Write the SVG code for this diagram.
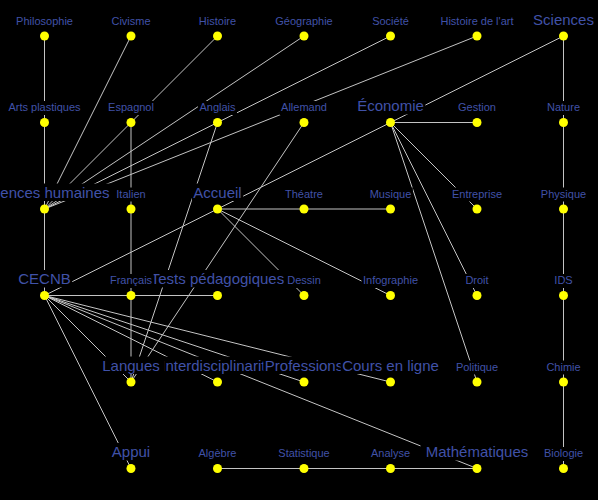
<svg xmlns="http://www.w3.org/2000/svg" width="598" height="500" viewBox="0 0 598 500">
<style>
.e line{stroke:#c4c4c4;stroke-width:1;fill:none}
.bg{fill:#000}
text{font-family:"Liberation Sans",Arial,sans-serif;fill:#4052a8;text-anchor:middle}
.s{font-size:11px}
.b{font-size:15px}
.d{fill:#ffff00}
</style>
<rect x="0" y="0" width="598" height="500" fill="#000"/>
<g id="connectors" class="e">
<line x1="44.5" y1="36" x2="44.5" y2="295.5"/>
<line x1="131" y1="36" x2="44.5" y2="209"/>
<line x1="217.5" y1="36" x2="44.5" y2="209"/>
<line x1="304" y1="36" x2="44.5" y2="209"/>
<line x1="390.5" y1="36" x2="44.5" y2="209"/>
<line x1="477" y1="36" x2="44.5" y2="209"/>
<line x1="563.5" y1="36" x2="44.5" y2="295.5"/>
<line x1="563.5" y1="36" x2="563.5" y2="468.5"/>
<line x1="131" y1="122.5" x2="131" y2="382"/>
<line x1="217.5" y1="122.5" x2="131" y2="382"/>
<line x1="304" y1="122.5" x2="131" y2="382"/>
<line x1="390.5" y1="122.5" x2="477" y2="122.5"/>
<line x1="390.5" y1="122.5" x2="477" y2="209"/>
<line x1="390.5" y1="122.5" x2="477" y2="295.5"/>
<line x1="390.5" y1="122.5" x2="477" y2="382"/>
<line x1="217.5" y1="209" x2="390.5" y2="209"/>
<line x1="217.5" y1="209" x2="304" y2="295.5"/>
<line x1="217.5" y1="209" x2="390.5" y2="295.5"/>
<line x1="44.5" y1="295.5" x2="217.5" y2="295.5"/>
<line x1="44.5" y1="295.5" x2="131" y2="382"/>
<line x1="44.5" y1="295.5" x2="217.5" y2="382"/>
<line x1="44.5" y1="295.5" x2="304" y2="382"/>
<line x1="44.5" y1="295.5" x2="390.5" y2="382"/>
<line x1="44.5" y1="295.5" x2="477" y2="468.5"/>
<line x1="44.5" y1="295.5" x2="131" y2="468.5"/>
<line x1="217.5" y1="468.5" x2="477" y2="468.5"/>
</g>
<g id="philosophie"><rect class="bg" x="14.85" y="14.5" width="59.3" height="14"/><text class="s" x="44.5" y="24.5">Philosophie</text><circle class="d" cx="44.5" cy="36" r="4.5"/></g>
<g id="civisme"><rect class="bg" x="109.95" y="14.5" width="42.1" height="14"/><text class="s" x="131" y="24.5">Civisme</text><circle class="d" cx="131" cy="36" r="4.5"/></g>
<g id="histoire"><rect class="bg" x="197.35" y="14.5" width="40.3" height="14"/><text class="s" x="217.5" y="24.5">Histoire</text><circle class="d" cx="217.5" cy="36" r="4.5"/></g>
<g id="geographie"><rect class="bg" x="273.75" y="14.5" width="60.5" height="14"/><text class="s" x="304" y="24.5">Géographie</text><circle class="d" cx="304" cy="36" r="4.5"/></g>
<g id="societe"><rect class="bg" x="370.65" y="14.5" width="39.7" height="14"/><text class="s" x="390.5" y="24.5">Société</text><circle class="d" cx="390.5" cy="36" r="4.5"/></g>
<g id="histoire-art"><rect class="bg" x="439" y="14.5" width="76" height="14"/><text class="s" x="477" y="24.5">Histoire de l'art</text><circle class="d" cx="477" cy="36" r="4.5"/></g>
<g id="sciences"><rect class="bg" x="531.55" y="10.5" width="63.9" height="17.5"/><text class="b" x="563.5" y="24.5">Sciences</text><circle class="d" cx="563.5" cy="36" r="4.5"/></g>
<g id="arts-plastiques"><rect class="bg" x="6.95" y="101" width="75.1" height="14"/><text class="s" x="44.5" y="111">Arts plastiques</text><circle class="d" cx="44.5" cy="122.5" r="4.5"/></g>
<g id="espagnol"><rect class="bg" x="106.55" y="101" width="48.9" height="14"/><text class="s" x="131" y="111">Espagnol</text><circle class="d" cx="131" cy="122.5" r="4.5"/></g>
<g id="anglais"><rect class="bg" x="197.95" y="101" width="39.1" height="14"/><text class="s" x="217.5" y="111">Anglais</text><circle class="d" cx="217.5" cy="122.5" r="4.5"/></g>
<g id="allemand"><rect class="bg" x="279.6" y="101" width="48.8" height="14"/><text class="s" x="304" y="111">Allemand</text><circle class="d" cx="304" cy="122.5" r="4.5"/></g>
<g id="economie"><rect class="bg" x="355.65" y="97" width="69.7" height="17.5"/><text class="b" x="390.5" y="111">Économie</text><circle class="d" cx="390.5" cy="122.5" r="4.5"/></g>
<g id="gestion"><rect class="bg" x="456.55" y="101" width="40.9" height="14"/><text class="s" x="477" y="111">Gestion</text><circle class="d" cx="477" cy="122.5" r="4.5"/></g>
<g id="nature"><rect class="bg" x="545.5" y="101" width="36" height="14"/><text class="s" x="563.5" y="111">Nature</text><circle class="d" cx="563.5" cy="122.5" r="4.5"/></g>
<g id="sciences-humaines"><rect class="bg" x="-22.05" y="183.5" width="133.1" height="17.5"/><text class="b" x="44.5" y="197.5">Sciences humaines</text><circle class="d" cx="44.5" cy="209" r="4.5"/></g>
<g id="italien"><rect class="bg" x="114.85" y="187.5" width="32.3" height="14"/><text class="s" x="131" y="197.5">Italien</text><circle class="d" cx="131" cy="209" r="4.5"/></g>
<g id="accueil"><rect class="bg" x="191.85" y="183.5" width="51.3" height="17.5"/><text class="b" x="217.5" y="197.5">Accueil</text><circle class="d" cx="217.5" cy="209" r="4.5"/></g>
<g id="theatre"><rect class="bg" x="283.55" y="187.5" width="40.9" height="14"/><text class="s" x="304" y="197.5">Théatre</text><circle class="d" cx="304" cy="209" r="4.5"/></g>
<g id="musique"><rect class="bg" x="368.2" y="187.5" width="44.6" height="14"/><text class="s" x="390.5" y="197.5">Musique</text><circle class="d" cx="390.5" cy="209" r="4.5"/></g>
<g id="entreprise"><rect class="bg" x="450.45" y="187.5" width="53.1" height="14"/><text class="s" x="477" y="197.5">Entreprise</text><circle class="d" cx="477" cy="209" r="4.5"/></g>
<g id="physique"><rect class="bg" x="539.4" y="187.5" width="48.2" height="14"/><text class="s" x="563.5" y="197.5">Physique</text><circle class="d" cx="563.5" cy="209" r="4.5"/></g>
<g id="cecnb"><rect class="bg" x="16.75" y="270" width="55.5" height="17.5"/><text class="b" x="44.5" y="284">CECNB</text><circle class="d" cx="44.5" cy="295.5" r="4.5"/></g>
<g id="tests-pedagogiques"><rect class="bg" x="148.45" y="270" width="138.1" height="17.5"/><text class="b" x="217.5" y="284">Tests pédagogiques</text><circle class="d" cx="217.5" cy="295.5" r="4.5"/></g>
<g id="francais"><rect class="bg" x="108.4" y="274" width="45.2" height="14"/><text class="s" x="131" y="284">Français</text><circle class="d" cx="131" cy="295.5" r="4.5"/></g>
<g id="dessin"><rect class="bg" x="285.7" y="274" width="36.6" height="14"/><text class="s" x="304" y="284">Dessin</text><circle class="d" cx="304" cy="295.5" r="4.5"/></g>
<g id="infographie"><rect class="bg" x="361.5" y="274" width="58" height="14"/><text class="s" x="390.5" y="284">Infographie</text><circle class="d" cx="390.5" cy="295.5" r="4.5"/></g>
<g id="droit"><rect class="bg" x="463.9" y="274" width="26.2" height="14"/><text class="s" x="477" y="284">Droit</text><circle class="d" cx="477" cy="295.5" r="4.5"/></g>
<g id="ids"><rect class="bg" x="552.85" y="274" width="21.3" height="14"/><text class="s" x="563.5" y="284">IDS</text><circle class="d" cx="563.5" cy="295.5" r="4.5"/></g>
<g id="interdisciplinarite"><rect class="bg" x="159.75" y="356.5" width="115.5" height="17.5"/><text class="b" x="217.5" y="370.5">Interdisciplinarité</text><circle class="d" cx="217.5" cy="382" r="4.5"/></g>
<g id="langues"><rect class="bg" x="100.75" y="356.5" width="63.5" height="17.5"/><text class="b" x="131" y="370.5">Langues</text><circle class="d" cx="131" cy="382" r="4.5"/></g>
<g id="professions"><rect class="bg" x="263.3" y="356.5" width="81.4" height="17.5"/><text class="b" x="304" y="370.5">Professions</text><circle class="d" cx="304" cy="382" r="4.5"/></g>
<g id="cours-en-ligne"><rect class="bg" x="340.65" y="356.5" width="99.7" height="17.5"/><text class="b" x="390.5" y="370.5">Cours en ligne</text><circle class="d" cx="390.5" cy="382" r="4.5"/></g>
<g id="politique"><rect class="bg" x="454.4" y="360.5" width="45.2" height="14"/><text class="s" x="477" y="370.5">Politique</text><circle class="d" cx="477" cy="382" r="4.5"/></g>
<g id="chimie"><rect class="bg" x="544.9" y="360.5" width="37.2" height="14"/><text class="s" x="563.5" y="370.5">Chimie</text><circle class="d" cx="563.5" cy="382" r="4.5"/></g>
<g id="appui"><rect class="bg" x="110.3" y="443" width="41.4" height="17.5"/><text class="b" x="131" y="457">Appui</text><circle class="d" cx="131" cy="468.5" r="4.5"/></g>
<g id="algebre"><rect class="bg" x="197.05" y="447" width="40.9" height="14"/><text class="s" x="217.5" y="457">Algèbre</text><circle class="d" cx="217.5" cy="468.5" r="4.5"/></g>
<g id="statistique"><rect class="bg" x="276.8" y="447" width="54.4" height="14"/><text class="s" x="304" y="457">Statistique</text><circle class="d" cx="304" cy="468.5" r="4.5"/></g>
<g id="analyse"><rect class="bg" x="369.45" y="447" width="42.1" height="14"/><text class="s" x="390.5" y="457">Analyse</text><circle class="d" cx="390.5" cy="468.5" r="4.5"/></g>
<g id="mathematiques"><rect class="bg" x="420.5" y="443" width="113" height="17.5"/><text class="b" x="477" y="457">Mathématiques</text><circle class="d" cx="477" cy="468.5" r="4.5"/></g>
<g id="biologie"><rect class="bg" x="542.45" y="447" width="42.1" height="14"/><text class="s" x="563.5" y="457">Biologie</text><circle class="d" cx="563.5" cy="468.5" r="4.5"/></g>
</svg>
